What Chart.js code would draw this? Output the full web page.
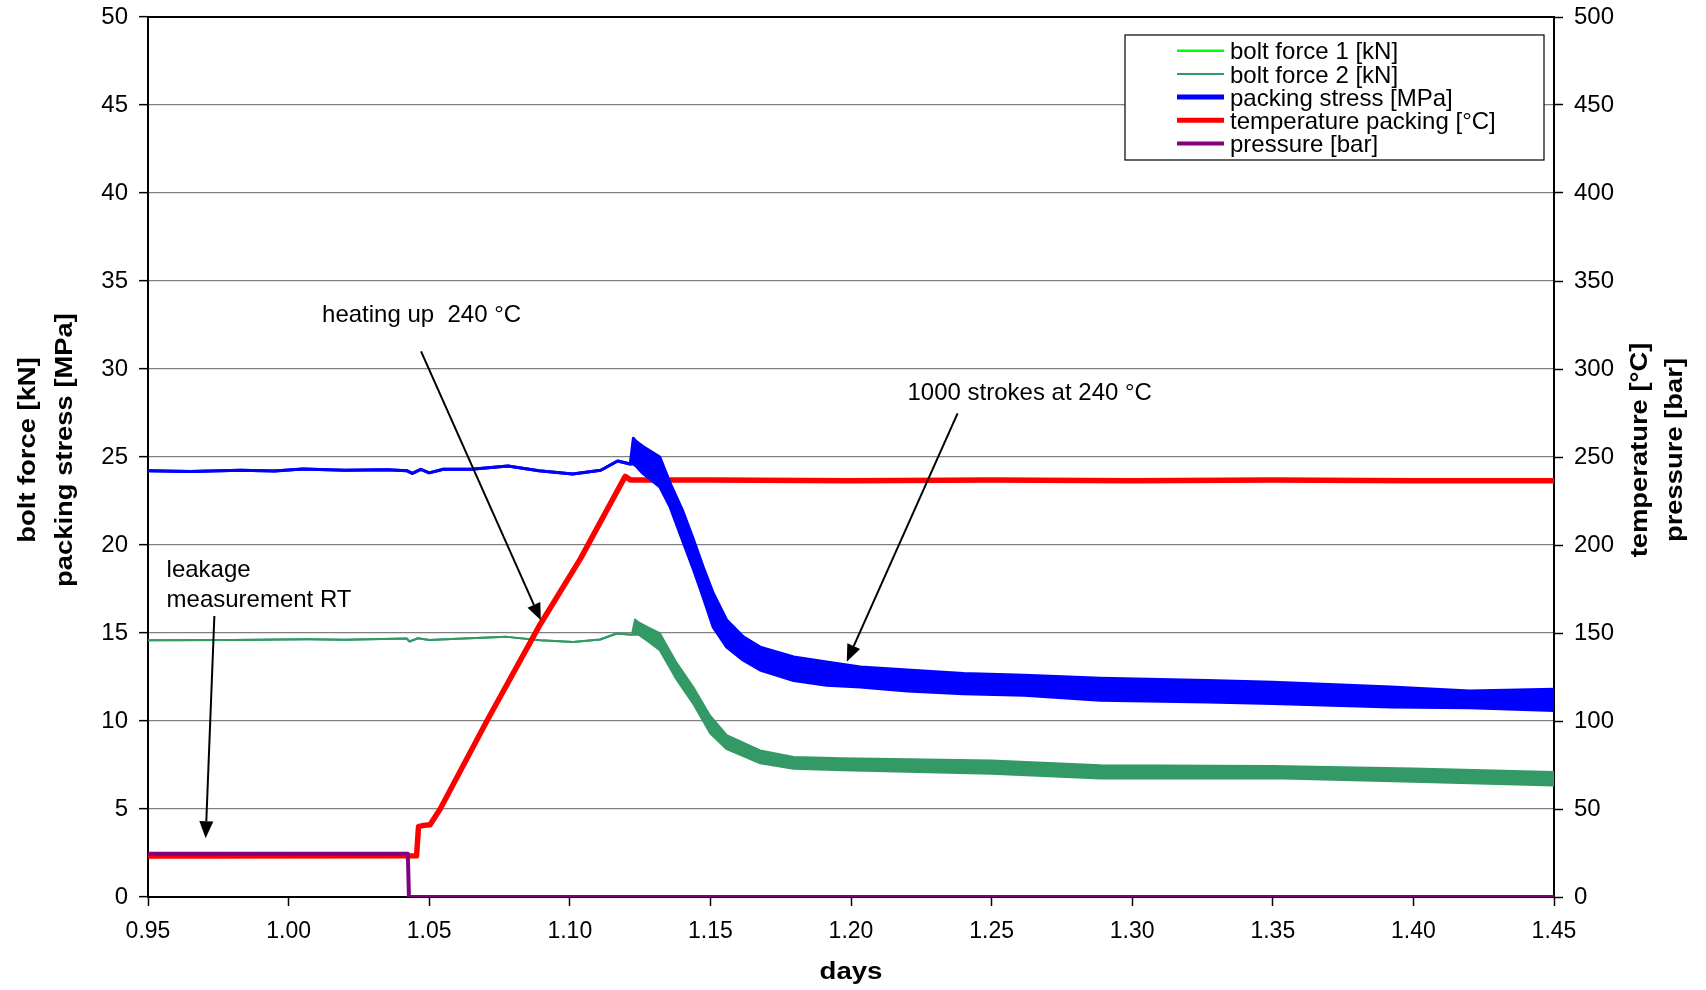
<!DOCTYPE html>
<html>
<head>
<meta charset="utf-8">
<title>bolt force / packing stress at 240 °C</title>
<script src="https://cdn.jsdelivr.net/npm/chart.js@4.4.0/dist/chart.umd.min.js"></script>
<style>
  html, body { margin: 0; padding: 0; background: #fff; }
  #wrap { width: 1706px; height: 990px; }
</style>
</head>
<body>
<div id="wrap"><canvas id="chart" width="1706" height="990"></canvas></div>
<script>
// axis ticks
const xTicks = [0.95, 1.00, 1.05, 1.10, 1.15, 1.20, 1.25, 1.30, 1.35, 1.40, 1.45];
const leftTicks = [0, 5, 10, 15, 20, 25, 30, 35, 40, 45, 50];
const rightTicks = [0, 50, 100, 150, 200, 250, 300, 350, 400, 450, 500];

const seriesNames = ['bolt force 1 [kN]', 'bolt force 2 [kN]', 'packing stress [MPa]',
  'temperature packing [°C]', 'pressure [bar]'];

// packing stress [MPa] - upper / lower edge (band = stroke oscillation)
const stressDays = [0.950, 0.965, 0.983, 0.995, 1.005, 1.020, 1.035, 1.042, 1.044, 1.047,
  1.050, 1.055, 1.065, 1.078, 1.089, 1.101, 1.111, 1.117, 1.1215, 1.1226,
  1.1235, 1.126, 1.132, 1.1357, 1.140, 1.144, 1.1474, 1.151, 1.1558, 1.1617,
  1.1677, 1.1796, 1.1913, 1.2033, 1.22, 1.24, 1.2616, 1.2887, 1.3267, 1.35,
  1.392, 1.42, 1.45];
const stressHigh = [24.22, 24.18, 24.25, 24.20, 24.32, 24.25, 24.28, 24.22, 24.07, 24.30,
  24.10, 24.30, 24.30, 24.49, 24.22, 24.03, 24.25, 24.77, 24.60, 26.06,
  25.90, 25.60, 25.00, 23.50, 22.00, 20.30, 18.76, 17.26, 15.73, 14.78,
  14.20, 13.64, 13.36, 13.07, 12.90, 12.70, 12.60, 12.43, 12.30, 12.20,
  11.93, 11.70, 11.80];
const stressLow = [24.22, 24.18, 24.25, 24.20, 24.32, 24.25, 24.28, 24.22, 24.07, 24.30,
  24.10, 24.30, 24.30, 24.49, 24.22, 24.03, 24.25, 24.77, 24.60, 24.60,
  24.50, 24.07, 23.30, 22.15, 20.30, 18.60, 17.05, 15.33, 14.20, 13.45,
  12.90, 12.30, 12.03, 11.93, 11.70, 11.55, 11.46, 11.18, 11.08, 11.00,
  10.80, 10.75, 10.60];

// bolt force 2 [kN] - upper / lower edge
const boltDays = [0.950, 0.980, 1.0065, 1.020, 1.042, 1.043, 1.046, 1.050, 1.060, 1.0776,
  1.0895, 1.1012, 1.1108, 1.1167, 1.1221, 1.1232, 1.1245, 1.128, 1.132, 1.138,
  1.144, 1.1499, 1.1558, 1.1677, 1.1796, 1.197, 1.25, 1.2887, 1.35, 1.40, 1.45];
const boltHigh = [14.59, 14.60, 14.64, 14.62, 14.69, 14.52, 14.70, 14.60, 14.68, 14.78,
  14.59, 14.49, 14.63, 14.97, 14.90, 15.77, 15.60, 15.30, 14.99, 13.30,
  11.90, 10.30, 9.20, 8.33, 7.95, 7.88, 7.75, 7.48, 7.45, 7.30, 7.10];
const boltLow = [14.59, 14.60, 14.64, 14.62, 14.69, 14.52, 14.70, 14.60, 14.68, 14.78,
  14.59, 14.49, 14.63, 14.97, 14.90, 14.90, 14.90, 14.50, 14.02, 12.35,
  10.95, 9.30, 8.40, 7.60, 7.29, 7.20, 7.00, 6.74, 6.75, 6.55, 6.34];

// bolt force 1 is not visible in the picture (hidden under bolt force 2)
const bolt1Days = [];
const bolt1Values = [];

// temperature packing [°C]
const tempDays = [0.950, 1.0455, 1.0462, 1.0480, 1.0503, 1.0539, 1.0705, 1.0895, 1.1037, 1.1197,
  1.1215, 1.15, 1.20, 1.25, 1.30, 1.35, 1.40, 1.45];
const tempValues = [23.3, 23.4, 40.0, 40.7, 41.0, 50, 100, 155, 192, 239,
  237, 237, 236.5, 237, 236.5, 237, 236.5, 236.5];

// pressure [bar]
const pressureDays = [0.950, 1.0424, 1.0428, 1.450];
const pressureValues = [24.6, 24.6, 0, 0];

// text notes with arrows (left-axis units)
const notes = [
  { lines: ['heating up  240 °C'], x: 1.0119, y: 33.05, from: [1.0471, 31.0], to: [1.0897, 15.72] },
  { lines: ['1000 strokes at 240 °C'], x: 1.2201, y: 28.59, from: [1.2379, 27.48], to: [1.1985, 13.37] },
  { lines: ['leakage', 'measurement RT'], x: 0.9566, y: 18.56, from: [0.9736, 15.97], to: [0.9705, 3.34] }
];

const FONT = "'Liberation Sans', Arial, sans-serif";

function pts(xs, ys) {
  return xs.map((x, i) => ({ x: x, y: ys[i] }));
}

function stretchedText(ctx, text, x, y, rot, sx) {
  ctx.save();
  ctx.translate(x, y);
  ctx.rotate(rot);
  ctx.scale(sx, 1);
  ctx.fillText(text, 0, 0);
  ctx.restore();
}

// keep the plot box where the picture has it, labels may overhang
function noPad(s) {
  s.paddingTop = 0;
  s.paddingBottom = 0;
  s.paddingLeft = 0;
  s.paddingRight = 0;
}

const decor = {
  id: 'decor',
  beforeDatasetsDraw(chart) {
    const { ctx, chartArea: a } = chart;
    ctx.save();
    ctx.strokeStyle = '#000';
    ctx.lineWidth = 2;
    ctx.strokeRect(a.left, a.top, a.right - a.left, a.bottom - a.top);
    ctx.restore();
  },
  afterDatasetsDraw(chart) {
    const { ctx, chartArea: a } = chart;
    const sx = chart.scales.x, sy = chart.scales.y;

    // notes + arrows
    ctx.save();
    ctx.fillStyle = '#000';
    ctx.strokeStyle = '#000';
    ctx.font = '24px ' + FONT;
    ctx.textBaseline = 'middle';
    ctx.textAlign = 'left';
    notes.forEach(n => {
      n.lines.forEach((t, i) => {
        ctx.fillText(t, sx.getPixelForValue(n.x), sy.getPixelForValue(n.y) + i * 30);
      });
      const x0 = sx.getPixelForValue(n.from[0]), y0 = sy.getPixelForValue(n.from[1]);
      const x1 = sx.getPixelForValue(n.to[0]), y1 = sy.getPixelForValue(n.to[1]);
      const ang = Math.atan2(y1 - y0, x1 - x0);
      const head = 17, half = 7;
      const bx = x1 - head * Math.cos(ang), by = y1 - head * Math.sin(ang);
      ctx.lineWidth = 2;
      ctx.beginPath();
      ctx.moveTo(x0, y0);
      ctx.lineTo(bx, by);
      ctx.stroke();
      ctx.beginPath();
      ctx.moveTo(x1, y1);
      ctx.lineTo(bx + half * Math.sin(ang), by - half * Math.cos(ang));
      ctx.lineTo(bx - half * Math.sin(ang), by + half * Math.cos(ang));
      ctx.closePath();
      ctx.fill();
    });
    ctx.restore();

    // legend box
    const bx = a.right - 429, by = a.top + 18, bw = 419, bh = 125;
    ctx.save();
    ctx.fillStyle = '#fff';
    ctx.fillRect(bx, by, bw, bh);
    ctx.strokeStyle = '#000';
    ctx.lineWidth = 1.2;
    ctx.strokeRect(bx, by, bw, bh);
    ctx.font = '24px ' + FONT;
    ctx.textAlign = 'left';
    ctx.textBaseline = 'alphabetic';
    seriesNames.forEach((name, i) => {
      const ds = chart.data.datasets.find(d => d.label === name);
      const ry = by + 15.7 + i * 23.2;
      ctx.strokeStyle = ds.borderColor;
      ctx.lineWidth = ds.legendWidth;
      ctx.beginPath();
      ctx.moveTo(bx + 52, ry);
      ctx.lineTo(bx + 99, ry);
      ctx.stroke();
      ctx.fillStyle = '#000';
      ctx.fillText(name, bx + 105, ry + 8.6);
    });
    ctx.restore();
  },
  afterDraw(chart) {
    const { ctx, chartArea: a } = chart;
    const midY = 450;
    ctx.save();
    ctx.fillStyle = '#000';
    ctx.font = 'bold 23px ' + FONT;
    ctx.textAlign = 'center';
    ctx.textBaseline = 'alphabetic';
    stretchedText(ctx, 'bolt force [kN]', 35, midY, -Math.PI / 2, 1.19);
    stretchedText(ctx, 'packing stress [MPa]', 72, midY, -Math.PI / 2, 1.19);
    stretchedText(ctx, 'temperature [°C]', a.right + 93, midY, -Math.PI / 2, 1.19);
    stretchedText(ctx, 'pressure [bar]', a.right + 128, midY, -Math.PI / 2, 1.19);
    stretchedText(ctx, 'days', (a.left + a.right) / 2, 979, 0, 1.2);
    ctx.restore();
  }
};

const tickFont = { family: FONT, size: 24 };

const chart = new Chart(document.getElementById('chart').getContext('2d'), {
  type: 'line',
  data: {
    datasets: [
      { label: seriesNames[4], data: pts(pressureDays, pressureValues), yAxisID: 'y1',
        borderColor: '#800080', borderWidth: 4, legendWidth: 4 },
      { label: seriesNames[2], data: pts(stressDays, stressHigh), yAxisID: 'y',
        borderColor: '#0000ff', borderWidth: 3, legendWidth: 5 },
      { label: 'stress low', data: pts(stressDays, stressLow), yAxisID: 'y',
        borderColor: '#0000ff', borderWidth: 3, fill: '-1', backgroundColor: '#0000ff' },
      { label: seriesNames[3], data: pts(tempDays, tempValues), yAxisID: 'y1',
        borderColor: '#ff0000', borderWidth: 5.5, legendWidth: 5 },
      { label: seriesNames[1], data: pts(boltDays, boltHigh), yAxisID: 'y',
        borderColor: '#339966', borderWidth: 2, legendWidth: 2 },
      { label: 'bolt low', data: pts(boltDays, boltLow), yAxisID: 'y',
        borderColor: '#339966', borderWidth: 2, fill: '-1', backgroundColor: '#339966' },
      { label: seriesNames[0], data: pts(bolt1Days, bolt1Values), yAxisID: 'y',
        borderColor: '#00ff00', borderWidth: 2, legendWidth: 2.5 }
    ]
  },
  options: {
    responsive: false,
    animation: false,
    events: [],
    layout: { padding: { top: 17, left: 0, right: 0, bottom: 0 } },
    elements: { point: { radius: 0 }, line: { tension: 0, borderJoinStyle: 'round' } },
    plugins: { legend: { display: false }, tooltip: { enabled: false }, title: { display: false } },
    scales: {
      x: {
        type: 'linear', min: 0.95, max: 1.45,
        afterBuildTicks: s => { s.ticks = xTicks.map(v => ({ value: v })); },
        afterFit: s => { s.height = 93; noPad(s); },
        ticks: { callback: v => v.toFixed(2), font: { family: FONT, size: 23 }, color: '#000',
          padding: 12, maxRotation: 0, autoSkip: false },
        grid: { drawOnChartArea: false, tickLength: 9, tickColor: '#000', tickWidth: 1.5 },
        border: { display: false }
      },
      y: {
        position: 'left', min: 0, max: 50,
        afterBuildTicks: s => { s.ticks = leftTicks.map(v => ({ value: v })); },
        afterFit: s => { s.width = 148; noPad(s); },
        ticks: { font: tickFont, color: '#000', padding: 11 },
        grid: { color: '#808080', lineWidth: 1.3, tickLength: 9, tickColor: '#000', tickWidth: 1.5 },
        border: { display: false }
      },
      y1: {
        position: 'right', min: 0, max: 500,
        afterBuildTicks: s => { s.ticks = rightTicks.map(v => ({ value: v })); },
        afterFit: s => { s.width = 152; noPad(s); },
        ticks: { font: tickFont, color: '#000', padding: 11 },
        grid: { drawOnChartArea: false, tickLength: 9, tickColor: '#000', tickWidth: 1.5 },
        border: { display: false }
      }
    }
  },
  plugins: [decor]
});
</script>
</body>
</html>
